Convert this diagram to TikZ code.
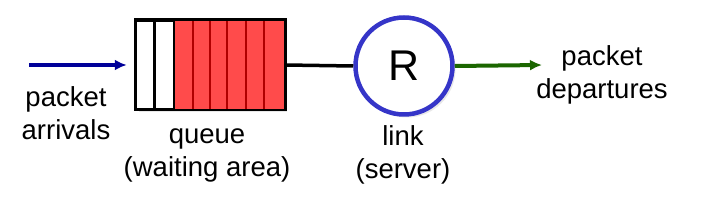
\documentclass[tikz,border=0pt]{standalone}
\usepackage{fontspec}
\setmainfont{Liberation Sans}
\usetikzlibrary{arrows.meta,calc,shadows}
\definecolor{qred}{HTML}{FF4B4B}
\definecolor{qdiv}{HTML}{B00000}
\definecolor{rblue}{HTML}{3535C8}
\definecolor{inblue}{HTML}{000099}
\definecolor{outgreen}{HTML}{1B6600}
\tikzset{
  lbl/.style={align=center,inner sep=0pt,font=\fontsize{27.5}{33}\selectfont},
  queuebox/.style={draw=black,line width=2.5pt,fill=white,minimum width=148pt,minimum height=88pt,inner sep=0pt,
    drop shadow={opacity=0.18,shadow xshift=3pt,shadow yshift=-3pt}},
  server/.style={circle,draw=rblue,line width=4.5pt,fill=white,minimum size=97pt,inner sep=0pt,
    font=\fontsize{43}{43}\selectfont,
    drop shadow={opacity=0.18,shadow xshift=3pt,shadow yshift=-3pt}},
  conn/.style={line width=3.5pt},
  tip/.style={-{Latex[length=12pt,width=11pt]}}
}
\begin{document}
\begin{tikzpicture}[x=1pt,y=-1pt]
\useasboundingbox (0,0) rectangle (710,205);
% queue
\node[queuebox] (q) at (210,65) {};
\fill[qred] ($(q.north west)+(39,0)$) rectangle (q.south east);
\foreach \d in {58,75,92.5,111,129}{
  \draw[qdiv,line width=2pt] ($(q.north west)+(\d,0)$) -- ($(q.south west)+(\d,0)$);
}
\foreach \d in {19.5,39}{
  \draw[black,line width=2.5pt] ($(q.north west)+(\d,0)$) -- ($(q.south west)+(\d,0)$);
}
\draw[black,line width=2.5pt] (q.north west) rectangle (q.south east);
% server
\node[server] (r) at (404,66) {R};
% connectors
\coordinate (in) at (29,65);
\coordinate (out) at (542,65);
\draw[conn,line width=4pt,inblue,tip,shorten >=8pt] (in) -- (q.west);
\draw[conn,black] (q.east) -- (r.west);
\draw[conn,line width=4pt,outgreen,tip] (r.east) -- (out);
% labels
\node[lbl] (arr) at (66,113.5) {packet\\arrivals};
\node[lbl] (ql) at (207,155.5) {queue\\(waiting area)};
\node[lbl] (ll) at (403,155) {link\\(server)};
\node[lbl] (dep) at (602,75) {packet\\departures};
\end{tikzpicture}
\end{document}
